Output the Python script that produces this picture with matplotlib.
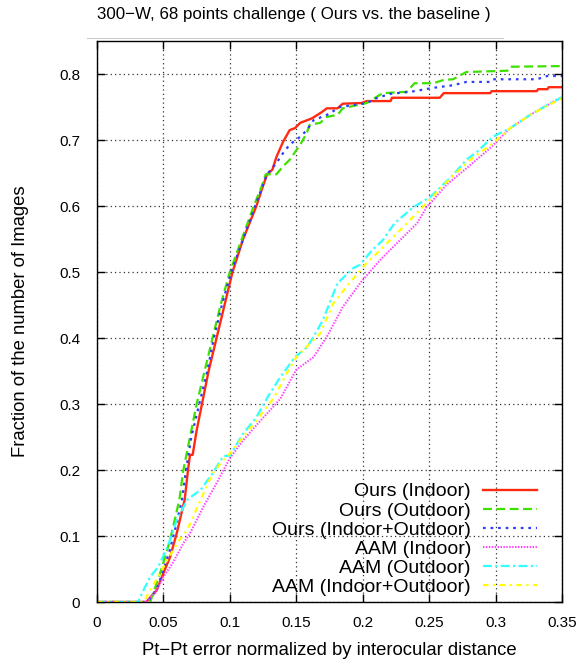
import matplotlib
matplotlib.use("Agg")
import matplotlib.pyplot as plt
from matplotlib.lines import Line2D

plt.rcParams['font.family'] = ['Liberation Sans', 'DejaVu Sans']

# ---- data ----
ours_in_x = [0, 0.037, 0.045, 0.050, 0.055, 0.060, 0.066, 0.0685, 0.070, 0.072, 0.075, 0.079, 0.084, 0.090,
             0.096, 0.102, 0.110, 0.120, 0.124, 0.128, 0.132, 0.135, 0.140, 0.145, 0.149, 0.153, 0.162, 0.169,
             0.173, 0.181, 0.185, 0.199, 0.203, 0.221, 0.222, 0.258, 0.261, 0.296, 0.297, 0.331, 0.332, 0.339,
             0.340, 0.35]
ours_in_y = [0, 0, 0.018, 0.044, 0.068, 0.104, 0.155, 0.20, 0.223, 0.223, 0.26, 0.30, 0.35, 0.40,
             0.45, 0.50, 0.55, 0.60, 0.625, 0.648, 0.655, 0.674, 0.697, 0.715, 0.718, 0.726, 0.733, 0.742,
             0.748, 0.748, 0.755, 0.756, 0.759, 0.759, 0.764, 0.764, 0.771, 0.771, 0.774, 0.774, 0.777, 0.777,
             0.780, 0.780]

ours_out_x = [0, 0.040, 0.044, 0.049, 0.055, 0.062, 0.065, 0.070, 0.075, 0.081, 0.087, 0.093, 0.100, 0.109,
              0.118, 0.124, 0.127, 0.135, 0.140, 0.145, 0.153, 0.158, 0.160, 0.168, 0.173, 0.181, 0.185, 0.203,
              0.215, 0.233, 0.239, 0.253, 0.261, 0.268, 0.278, 0.309, 0.311, 0.35]
ours_out_y = [0, 0, 0.023, 0.053, 0.094, 0.155, 0.20, 0.25, 0.30, 0.35, 0.40, 0.45, 0.50, 0.55,
              0.60, 0.63, 0.648, 0.648, 0.660, 0.670, 0.693, 0.711, 0.723, 0.726, 0.735, 0.738, 0.748, 0.756,
              0.771, 0.773, 0.786, 0.786, 0.791, 0.792, 0.803, 0.805, 0.811, 0.812]

ours_all_x = [0, 0.038, 0.045, 0.050, 0.055, 0.060, 0.064, 0.067, 0.071, 0.077, 0.083, 0.088, 0.094, 0.101,
              0.110, 0.119, 0.128, 0.135, 0.140, 0.145, 0.153, 0.158, 0.163, 0.173, 0.183, 0.203, 0.211, 0.221,
              0.236, 0.253, 0.268, 0.278, 0.296, 0.298, 0.331, 0.339, 0.35]
ours_all_y = [0, 0, 0.020, 0.048, 0.080, 0.120, 0.155, 0.20, 0.25, 0.30, 0.35, 0.40, 0.45, 0.50,
              0.55, 0.60, 0.648, 0.665, 0.680, 0.693, 0.705, 0.715, 0.730, 0.738, 0.750, 0.756, 0.764, 0.770,
              0.773, 0.779, 0.783, 0.788, 0.788, 0.792, 0.792, 0.797, 0.797]

aam_in_x = [0, 0.037, 0.044, 0.050, 0.057, 0.065, 0.070, 0.080, 0.090, 0.100, 0.110, 0.120, 0.130, 0.138,
            0.150, 0.163, 0.173, 0.185, 0.198, 0.213, 0.228, 0.241, 0.248, 0.263, 0.281, 0.296, 0.311, 0.326,
            0.346, 0.35]
aam_in_y = [0, 0, 0.014, 0.038, 0.059, 0.089, 0.104, 0.144, 0.180, 0.218, 0.245, 0.268, 0.290, 0.308,
            0.352, 0.371, 0.402, 0.447, 0.483, 0.518, 0.548, 0.574, 0.598, 0.632, 0.662, 0.688, 0.718, 0.738,
            0.761, 0.763]

aam_out_x = [0, 0.031, 0.035, 0.040, 0.046, 0.053, 0.060, 0.068, 0.078, 0.087, 0.095, 0.100, 0.110, 0.120,
             0.128, 0.138, 0.149, 0.158, 0.163, 0.170, 0.181, 0.193, 0.198, 0.207, 0.215, 0.224, 0.238, 0.251,
             0.268, 0.278, 0.286, 0.298, 0.311, 0.326, 0.339, 0.35]
aam_out_y = [0, 0, 0.018, 0.038, 0.053, 0.083, 0.124, 0.155, 0.170, 0.195, 0.221, 0.222, 0.255, 0.280,
             0.309, 0.341, 0.371, 0.386, 0.402, 0.427, 0.483, 0.506, 0.511, 0.533, 0.548, 0.574, 0.598, 0.614,
             0.647, 0.670, 0.682, 0.705, 0.718, 0.738, 0.753, 0.765]

aam_all_x = [0, 0.035, 0.040, 0.046, 0.053, 0.062, 0.068, 0.078, 0.087, 0.095, 0.100, 0.110, 0.120, 0.133,
             0.143, 0.150, 0.168, 0.178, 0.190, 0.203, 0.208, 0.226, 0.243, 0.266, 0.281, 0.298, 0.311, 0.326,
             0.339, 0.35]
aam_all_y = [0, 0, 0.018, 0.038, 0.064, 0.094, 0.109, 0.155, 0.195, 0.215, 0.225, 0.250, 0.275, 0.309,
             0.347, 0.371, 0.407, 0.453, 0.483, 0.514, 0.523, 0.559, 0.594, 0.642, 0.670, 0.695, 0.718, 0.738,
             0.752, 0.763]

labels = ["Ours (Indoor)", "Ours (Outdoor)", "Ours (Indoor+Outdoor)",
          "AAM (Indoor)", "AAM (Outdoor)", "AAM (Indoor+Outdoor)"]
x_ticks = [0, 0.05, 0.1, 0.15, 0.2, 0.25, 0.3, 0.35]
x_tick_labels = ["0", "0.05", "0.1", "0.15", "0.2", "0.25", "0.3", "0.35"]
y_ticks = [0, 0.1, 0.2, 0.3, 0.4, 0.5, 0.6, 0.7, 0.8]
y_tick_labels = ["0", "0.1", "0.2", "0.3", "0.4", "0.5", "0.6", "0.7", "0.8"]

# ---- figure ----
fig = plt.figure(figsize=(5.81, 6.59), dpi=100)
ax = fig.add_axes([97/581, 1-602/659, (562-97)/581, (602-41)/659])

series = [
    (ours_in_x, ours_in_y, dict(color='#ff2a10', linestyle='-', lw=1.7)),
    (ours_out_x, ours_out_y, dict(color='#3ee000', linestyle=(0, (4, 2)), lw=1.6)),
    (ours_all_x, ours_all_y, dict(color='#2a3cff', linestyle=(0, (1.2, 2.2)), lw=1.6)),
    (aam_in_x, aam_in_y, dict(color='#ff44ff', linestyle=(0, (0.7, 0.7)), lw=1.5)),
    (aam_out_x, aam_out_y, dict(color='#33ffff', linestyle=(0, (4, 1.5, 1, 1.5)), lw=1.6)),
    (aam_all_x, aam_all_y, dict(color='#ffff00', linestyle=(0, (2.5, 2, 1, 2)), lw=1.6)),
]
for (xs, ys, st), lab in zip(series, labels):
    ax.plot(xs, ys, label=lab, **st)

ax.set_xlim(0, 0.35)
ax.set_ylim(0, 0.85)
ax.set_xticks(x_ticks)
ax.set_xticklabels(x_tick_labels)
ax.set_yticks(y_ticks)
ax.set_yticklabels(y_tick_labels)
ax.tick_params(direction='in', top=True, right=True, length=6, width=1, labelsize=11)
ax.tick_params(axis='y', pad=12)
ax.tick_params(axis='x', pad=10)
ax.grid(True, color='#333333', linestyle=(0, (1, 2.5)), linewidth=0.9)
for s in ax.spines.values():
    s.set_linewidth(1.0)

ax.set_xlabel("Pt\u2212Pt error normalized by interocular distance", fontsize=13.3, labelpad=9)
ax.set_ylabel("Fraction of the number of Images", fontsize=13.3, labelpad=22)
fig.text(0.506, 1-14/659, "300\u2212W, 68 points challenge ( Ours vs. the baseline )",
         ha='center', va='center', fontsize=12.2)
fig.add_artist(Line2D([87/581, 503/581], [1-38/659, 1-38/659], color='#cccccc', lw=0.8))

leg = ax.legend(loc='lower right', bbox_to_anchor=(0.959, 0.0), frameon=False,
                markerfirst=False, fontsize=14, handlelength=2.8, handletextpad=0.6,
                labelspacing=0.08, borderaxespad=0.1, borderpad=0.2)

fig.savefig("out.png", dpi=100)
